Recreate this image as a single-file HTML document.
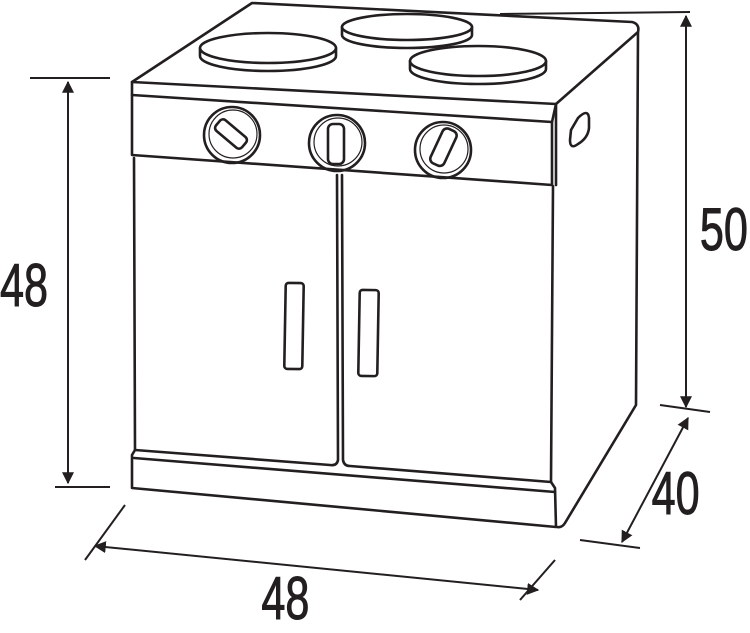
<!DOCTYPE html>
<html><head><style>
html,body{margin:0;padding:0;background:#fff;width:750px;height:633px;overflow:hidden}
text{font-family:"Liberation Sans",sans-serif;font-size:60px;fill:#231f20;stroke:#231f20;stroke-width:1}
</style></head><body>
<svg width="750" height="633" viewBox="0 0 750 633" xmlns="http://www.w3.org/2000/svg">
<defs><marker id="a" viewBox="0 0 10 10" refX="9" refY="5" markerWidth="6" markerHeight="6" orient="auto-start-reverse"><path d="M0,0 L10,5 L0,10 z" fill="#231f20"/></marker></defs>
<g fill="none" stroke="#231f20" stroke-width="2.6" stroke-linejoin="round" stroke-linecap="round">
<path d="M132,82 L252,3 L632,22 Q640,24 638,32 L556,104 L132,82 Z" fill="#fff"/>
<path d="M132,82 L132,95 L552,122 L556,104"/>
<path d="M132,95 L132,155 L552,185 L552,122"/>
<path d="M556,104 L556,185"/>
<path d="M638,32 L636,405 L565,523 Q562,528 557,527"/>
<path d="M578,118 Q588,108 589,118 L589,128 Q588,138 578,144 Q570,150 570,140 L571,130 Z"/>
<path d="M134,158 L135,450 L330,465 Q337,466 338,460 L337,175"/>
<path d="M342,175 L343,460 Q344,466 350,466 L551,482 L553,186"/>
<path d="M135,450 L132,455 L132,488 L556,527 L555,488 L551,482"/>
<path d="M134,458 L555,492"/>
<rect x="285" y="283" width="18" height="86" rx="3" transform="rotate(1 294 326)"/>
<rect x="359" y="290" width="19" height="86" rx="3" transform="rotate(1 368 333)"/>
<path d="M200,48 L200,56 A68,15 0 0 0 336,56 L336,48"/><ellipse cx="268" cy="48" rx="68" ry="15" fill="#fff"/>
<path d="M342,27 L342,35 A65,13 0 0 0 472,35 L472,27"/><ellipse cx="407" cy="27" rx="65" ry="13" fill="#fff"/>
<path d="M410,61 L410,69 A68,15 0 0 0 546,69 L546,61"/><ellipse cx="478" cy="61" rx="68" ry="15" fill="#fff"/>
<circle cx="232" cy="135" r="28"/><circle cx="233" cy="134" r="24" stroke-width="1.2"/>
<rect x="214" y="127" width="34" height="14" rx="4" transform="rotate(40 231 134)"/>
<circle cx="337" cy="143" r="28"/><circle cx="338" cy="142" r="24" stroke-width="1.2"/>
<rect x="328" y="124" width="16" height="40" rx="5"/>
<circle cx="443" cy="150" r="28"/><circle cx="444" cy="149" r="24" stroke-width="1.2"/>
<rect x="436" y="128" width="15" height="38" rx="5" transform="rotate(25 443 147)"/>
</g>
<g stroke="#231f20" stroke-width="2" fill="none">
<line x1="30" y1="78" x2="110" y2="78"/><line x1="55" y1="487" x2="110" y2="487"/>
<line x1="68" y1="82" x2="68" y2="483" marker-start="url(#a)" marker-end="url(#a)"/>
<line x1="500" y1="14" x2="690" y2="12"/><line x1="660" y1="405" x2="710" y2="412"/>
<line x1="686" y1="16" x2="686" y2="407" marker-start="url(#a)" marker-end="url(#a)"/>
<line x1="580" y1="540" x2="640" y2="548"/>
<line x1="688" y1="418" x2="622" y2="542" marker-start="url(#a)" marker-end="url(#a)"/>
<line x1="85" y1="560" x2="125" y2="505"/><line x1="520" y1="600" x2="555" y2="560"/>
<line x1="95" y1="546" x2="538" y2="590" marker-start="url(#a)" marker-end="url(#a)"/>
</g>
<text x="0" y="306" transform="scale(0.72 1)">48</text>
<text x="972" y="250" transform="scale(0.72 1)">50</text>
<text x="905" y="514" transform="scale(0.72 1)">40</text>
<text x="363" y="619" transform="scale(0.72 1)">48</text>
</svg>
</body></html>
